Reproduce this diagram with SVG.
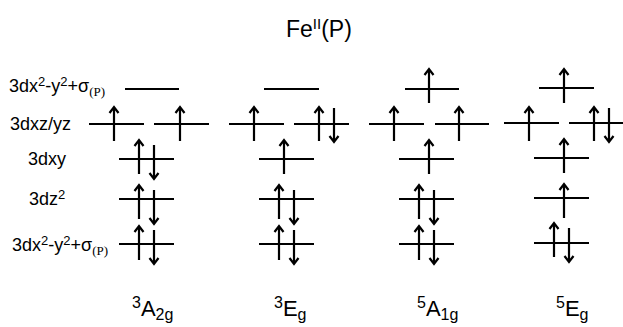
<svg xmlns="http://www.w3.org/2000/svg" xmlns:xlink="http://www.w3.org/1999/xlink" width="623" height="327" viewBox="0 0 623 327">
<style>
.lv{stroke:#000;stroke-width:2;fill:none}
.ar{stroke:#000;stroke-width:2.2;fill:none}
.t{font-family:"Liberation Sans",Arial,sans-serif;fill:#000}
.lab{font-size:18px}
.sup{font-size:13px}
.ser{font-family:"Liberation Serif","Times New Roman",serif;font-size:13px}
.st{font-size:22px}
.ss{font-size:16px}
</style>
<defs>
<path id="up" d="M0,0 V34 M-4.5,6 L0,0 L4.5,6" class="ar"/>
<path id="dn" d="M0,0 V34 M-4.5,28 L0,34 L4.5,28" class="ar"/>
</defs>
<rect width="623" height="327" fill="#fff"/>
<text class="t" x="286" y="37" font-size="23">Fe<tspan font-size="15" dy="-8">II</tspan><tspan dy="8">(P)</tspan></text>
<g id="labels">
<text class="t lab" x="9" y="92">3dx<tspan class="sup" dy="-6">2</tspan><tspan dy="6">-y</tspan><tspan class="sup" dy="-6">2</tspan><tspan dy="6">+σ</tspan><tspan class="ser" dy="4">(P)</tspan></text>
<text class="t lab" x="10" y="130">3dxz/yz</text>
<text class="t lab" x="28" y="165">3dxy</text>
<text class="t lab" x="29" y="205">3dz<tspan class="sup" dy="-6">2</tspan></text>
<text class="t lab" x="12" y="251">3dx<tspan class="sup" dy="-6">2</tspan><tspan dy="6">-y</tspan><tspan class="sup" dy="-6">2</tspan><tspan dy="6">+σ</tspan><tspan class="ser" dy="4">(P)</tspan></text>
</g>
<g id="col-3A2g">
<path class="lv" d="M125,89H179 M89,124H144 M154,124H209 M119,159H174 M119,199H174 M119,244H174"/>
<use xlink:href="#up" x="114" y="107"/><use xlink:href="#up" x="180" y="107"/>
<use xlink:href="#up" x="139" y="140"/><use xlink:href="#dn" x="154" y="145"/>
<use xlink:href="#up" x="139" y="185"/><use xlink:href="#dn" x="154" y="190"/>
<use xlink:href="#up" x="139" y="226"/><use xlink:href="#dn" x="154" y="230"/>
<text class="t st" x="132" y="316"><tspan class="ss" dy="-8">3</tspan><tspan dy="8">A</tspan><tspan class="ss" dy="4">2g</tspan></text>
</g>
<g id="col-3Eg">
<path class="lv" d="M264,89H319 M229,124H284 M294,124H349 M259,159H314 M259,199H314 M259,244H314"/>
<use xlink:href="#up" x="254" y="107"/><use xlink:href="#up" x="319" y="107"/><use xlink:href="#dn" x="334" y="108"/>
<use xlink:href="#up" x="284" y="140"/>
<use xlink:href="#up" x="279" y="185"/><use xlink:href="#dn" x="294" y="190"/>
<use xlink:href="#up" x="279" y="226"/><use xlink:href="#dn" x="294" y="230"/>
<text class="t st" x="274" y="316"><tspan class="ss" dy="-8">3</tspan><tspan dy="8">E</tspan><tspan class="ss" dy="4">g</tspan></text>
</g>
<g id="col-5A1g">
<path class="lv" d="M405,89H459 M369,124H424 M435,124H489 M399,159H454 M399,199H454 M399,244H454"/>
<use xlink:href="#up" x="429" y="69"/>
<use xlink:href="#up" x="394" y="107"/><use xlink:href="#up" x="459" y="107"/>
<use xlink:href="#up" x="429" y="140"/>
<use xlink:href="#up" x="419" y="185"/><use xlink:href="#dn" x="434" y="190"/>
<use xlink:href="#up" x="419" y="226"/><use xlink:href="#dn" x="434" y="230"/>
<text class="t st" x="417" y="316"><tspan class="ss" dy="-8">5</tspan><tspan dy="8">A</tspan><tspan class="ss" dy="4">1g</tspan></text>
</g>
<g id="col-5Eg">
<path class="lv" d="M539,88H594 M504,123H559 M569,123H624 M534,158H589 M534,198H589 M534,243H589"/>
<use xlink:href="#up" x="564" y="69"/>
<use xlink:href="#up" x="529" y="107"/><use xlink:href="#up" x="594" y="107"/><use xlink:href="#dn" x="609" y="108"/>
<use xlink:href="#up" x="564" y="139"/>
<use xlink:href="#up" x="564" y="184"/>
<use xlink:href="#up" x="554" y="223"/><use xlink:href="#dn" x="569" y="228"/>
<text class="t st" x="556" y="316"><tspan class="ss" dy="-8">5</tspan><tspan dy="8">E</tspan><tspan class="ss" dy="4">g</tspan></text>
</g>
</svg>
